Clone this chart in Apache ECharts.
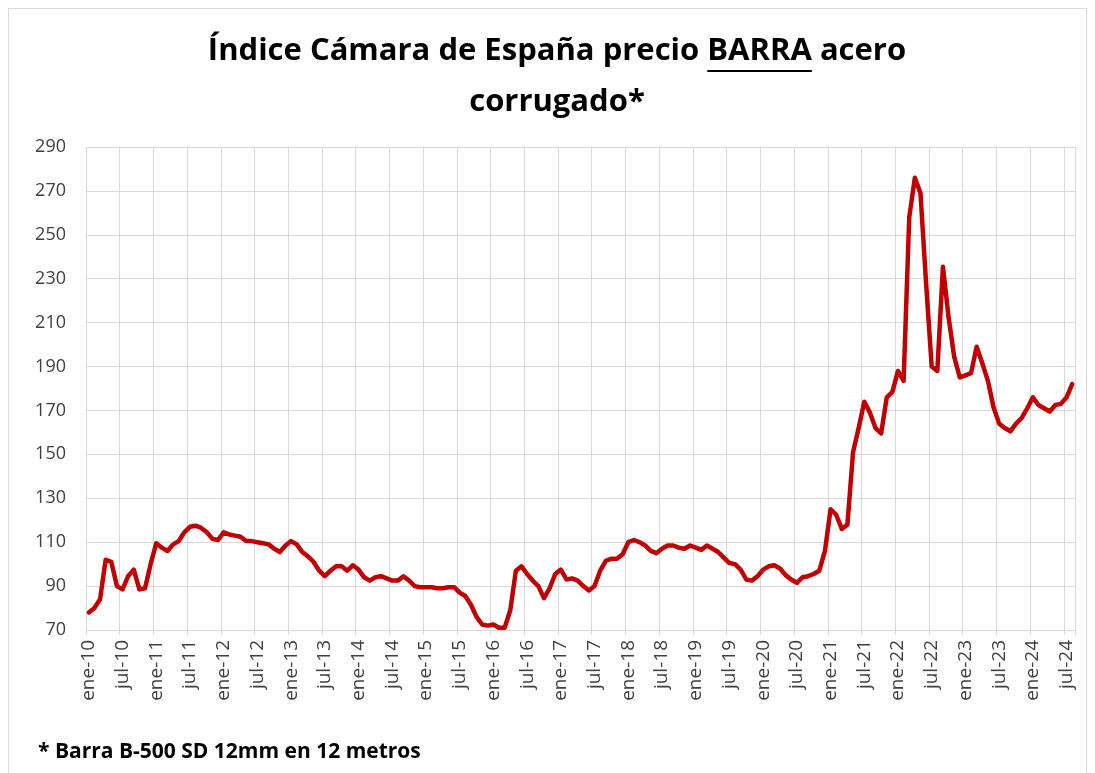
<!DOCTYPE html>
<html>
<head>
<meta charset="utf-8">
<script src="https://cdn.jsdelivr.net/npm/echarts@6/dist/echarts.min.js"></script>
<style>
  html, body { margin: 0; padding: 0; background: #fff; }
  #chart { position: absolute; left: 0; top: 0; width: 1095px; height: 773px; }
  #frame { position: absolute; left: 8px; top: 8px; width: 1077px; height: 790px;
           border: 1px solid #d9d9d9; pointer-events: none; }
</style>
</head>
<body>
<div id="chart"></div>
<div id="frame"></div>
<script>
// meses y años del eje
var meses = ['ene','feb','mar','abr','may','jun','jul','ago','sep','oct','nov','dic'];
var anioInicio = 10;
var numMeses = 176; // ene-10 .. ago-24

// índice mensual
var indice = [
  78, 80, 84, 102, 101, 90, 88.5, 94.5, 97.5, 88.5, 89, 100,            // 2010
  109.5, 107.5, 106, 109, 110.5, 114.5, 117, 117.5, 116.5, 114.5, 111.5, 111, // 2011
  114.5, 113.5, 113, 112.5, 110.5, 110.5, 110, 109.5, 109, 107, 105.5, 108.5, // 2012
  110.5, 109, 105.5, 103.5, 101, 97, 94.5, 97, 99, 99, 97, 99.5,       // 2013
  97.5, 94, 92.5, 94, 94.5, 93.5, 92.5, 92.5, 94.5, 92.5, 90, 89.5,    // 2014
  89.5, 89.5, 89, 89, 89.5, 89.5, 87, 85.5, 81.5, 76, 72.5, 72,        // 2015
  72.5, 71, 71, 79, 97, 99, 95.5, 92.5, 90, 84.5, 89, 95.5,            // 2016
  97.5, 93, 93.5, 92.5, 90, 88, 90, 97, 101.5, 102.5, 102.5, 104.5,    // 2017
  110, 111, 110, 108.5, 106, 105, 107, 108.5, 108.5, 107.5, 107, 108.5, // 2018
  107.5, 106.5, 108.5, 107, 105.5, 103, 100.5, 100, 97.5, 93, 92.5, 94.5, // 2019
  97.5, 99, 99.5, 98, 95, 93, 91.5, 94, 94.5, 95.5, 97, 106,           // 2020
  125, 122.5, 116, 118, 151, 162, 174, 169, 162, 159.5, 176, 178.5,    // 2021
  188, 183.5, 258, 276, 269, 228, 190, 188, 235.5, 212.5, 194.5, 185,  // 2022
  186, 187, 199, 191.5, 183.5, 171.5, 164, 162, 160.5, 164, 166.5, 171, // 2023
  176, 172.5, 171, 169.5, 172.5, 173, 176, 182                         // 2024
];

var yMin = 70, yMax = 290, yPaso = 20;

var categorias = [];
for (var i = 0; i < numMeses; i++) {
  var anio = anioInicio + Math.floor(i / 12);
  categorias.push(meses[i % 12] + '-' + (anio < 10 ? '0' + anio : anio));
}

var tituloL1a = 'Índice Cámara de España precio ';
var tituloL1b = 'BARRA';
var tituloL1c = ' acero';
var tituloL2 = 'corrugado*';
var nota = '* Barra B-500 SD 12mm en 12 metros';

var fuente = '"Open Sans", "Noto Sans", sans-serif';
var tamTitulo = 31;

// medir el texto para colocar el subrayado de BARRA
var ctx = document.createElement('canvas').getContext('2d');
ctx.font = 'bold ' + tamTitulo + 'px ' + fuente;
var anchoL1 = ctx.measureText(tituloL1a + tituloL1b + tituloL1c).width;
var anchoPre = ctx.measureText(tituloL1a).width;
var anchoB = ctx.measureText(tituloL1b).width;
var centroTitulo = 557;
var x0 = centroTitulo - anchoL1 / 2;
var topL1 = 36;

var myChart = echarts.init(document.getElementById('chart'));

var option = {
  backgroundColor: 'transparent',
  animation: false,
  grid: { left: 86, top: 147, width: 989, height: 483 },
  graphic: [
    {
      type: 'text', left: x0, top: topL1,
      style: { text: tituloL1a + tituloL1b + tituloL1c, font: 'bold ' + tamTitulo + 'px ' + fuente, fill: '#000' }
    },
    {
      type: 'line',
      shape: { x1: x0 + anchoPre, y1: 71, x2: x0 + anchoPre + anchoB, y2: 71 },
      style: { stroke: '#000', lineWidth: 2 }
    },
    {
      type: 'text', x: centroTitulo, y: 102,
      style: { text: tituloL2, font: 'bold ' + tamTitulo + 'px ' + fuente, fill: '#000', textAlign: 'center', textVerticalAlign: 'middle' }
    },
    {
      type: 'text', left: 38, top: 742,
      style: { text: nota, font: 'bold 21px ' + fuente, fill: '#000' }
    }
  ],
  xAxis: {
    type: 'category',
    data: categorias,
    boundaryGap: true,
    axisLine: { lineStyle: { color: '#d9d9d9', width: 1 } },
    axisTick: { show: true, interval: 5, length: 5, lineStyle: { color: '#d9d9d9' } },
    axisLabel: { interval: 5, rotate: 90, color: '#404040', fontSize: 19, fontFamily: fuente, margin: 10 },
    splitLine: { show: true, interval: 5, lineStyle: { color: '#d9d9d9', width: 1 } }
  },
  yAxis: {
    type: 'value',
    min: yMin, max: yMax, interval: yPaso,
    axisLine: { show: false },
    axisTick: { show: false },
    axisLabel: { color: '#404040', fontSize: 18, fontFamily: fuente, margin: 20 },
    splitLine: { lineStyle: { color: '#d9d9d9', width: 1 } }
  },
  series: [{
    type: 'line',
    data: indice,
    showSymbol: false,
    smooth: false,
    lineStyle: { color: '#c00000', width: 4.5, join: 'round', cap: 'round' }
  }]
};

myChart.setOption(option);
</script>
</body>
</html>
